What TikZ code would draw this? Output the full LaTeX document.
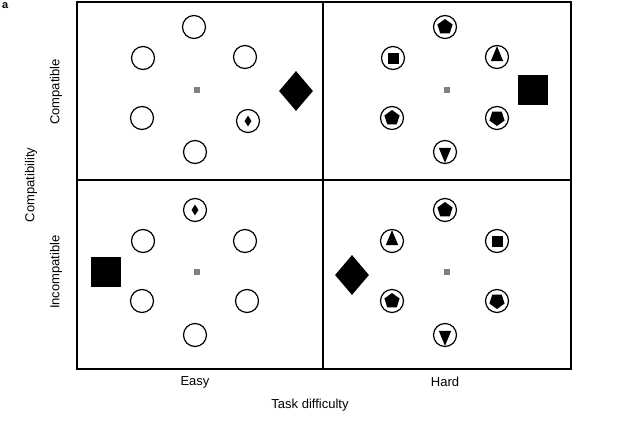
\documentclass[tikz,border=0pt]{standalone}
\usepackage{fontspec}
\setmainfont{Liberation Sans}
\usetikzlibrary{shapes.geometric}
\begin{document}
\begin{tikzpicture}[x=1pt,y=-1pt,
  ring/.style={circle,draw,line width=1.2pt,minimum size=23pt,inner sep=0pt},
  pent/.style={regular polygon,regular polygon sides=5,fill,inner sep=0pt,minimum size=16pt},
  pentd/.style={pent,shape border rotate=180},
  tri/.style={isosceles triangle,isosceles triangle apex angle=45,shape border rotate=90,fill,inner sep=0pt,minimum height=15pt,minimum width=10pt},
  trid/.style={tri,shape border rotate=-90},
  sq/.style={rectangle,fill,inner sep=0pt,minimum size=11pt},
  dia/.style={diamond,fill,inner sep=0pt,minimum width=7pt,minimum height=11pt},
  bigsq/.style={rectangle,fill,inner sep=0pt,minimum size=30pt},
  bigdia/.style={diamond,fill,inner sep=0pt,minimum width=34pt,minimum height=40pt},
  fix/.style={rectangle,fill=gray,inner sep=0pt,minimum size=6pt},
  lab/.style={font=\fontsize{13}{15}\selectfont}]
\useasboundingbox (0,0) rectangle (640,434);
\draw[line width=1.1pt] (77,2) rectangle (571,369);
\draw[line width=1.1pt] (323,2) -- (323,369);
\draw[line width=1.1pt] (77,180) -- (571,180);
\node[font=\bfseries\fontsize{11}{13}\selectfont,anchor=north west,inner sep=0pt] (a) at (2,2) {a};
% top-left
\node[fix] (f1) at (197,90) {};
\node[ring] (c11) at (194,27) {};
\node[ring] (c12) at (143,58) {};
\node[ring] (c13) at (245,57) {};
\node[ring] (c14) at (142,118) {};
\node[ring] (c15) at (248,121) {};
\node[dia] (g15) at (c15) {};
\node[ring] (c16) at (195,152) {};
\node[bigdia] (t1) at (296,91) {};
% top-right
\node[fix] (f2) at (447,90) {};
\node[ring] (c21) at (445,27) {}; \node[pent] at (c21) {};
\node[ring] (c22) at (393,58) {}; \node[sq] at (c22) {};
\node[ring] (c23) at (497,57) {}; \node[tri] at (c23) {};
\node[ring] (c24) at (392,118) {}; \node[pent] at (c24) {};
\node[ring] (c25) at (497,118) {}; \node[pentd] at (c25) {};
\node[ring] (c26) at (445,152) {}; \node[trid] at (c26) {};
\node[bigsq] (t2) at (533,90) {};
% bottom-left
\node[fix] (f3) at (197,272) {};
\node[ring] (c31) at (195,210) {}; \node[dia] at (c31) {};
\node[ring] (c32) at (143,241) {};
\node[ring] (c33) at (245,241) {};
\node[ring] (c34) at (142,301) {};
\node[ring] (c35) at (247,301) {};
\node[ring] (c36) at (195,335) {};
\node[bigsq] (t3) at (106,272) {};
% bottom-right
\node[fix] (f4) at (447,272) {};
\node[ring] (c41) at (445,210) {}; \node[pent] at (c41) {};
\node[ring] (c42) at (392,241) {}; \node[tri] at (c42) {};
\node[ring] (c43) at (497,241) {}; \node[sq] at (c43) {};
\node[ring] (c44) at (392,301) {}; \node[pent] at (c44) {};
\node[ring] (c45) at (497,301) {}; \node[pentd] at (c45) {};
\node[ring] (c46) at (445,335) {}; \node[trid] at (c46) {};
\node[bigdia] (t4) at (352,275) {};
% labels
\node[lab] (easy) at (195,382) {Easy};
\node[lab] (hard) at (445,382) {Hard};
\node[lab] (td) at (310,405) {Task difficulty};
\node[lab,rotate=90] (cy) at (31,185) {Compatibility};
\node[lab,rotate=90] (cp) at (56,92) {Compatible};
\node[lab,rotate=90] (ic) at (56,272) {Incompatible};
\end{tikzpicture}
\end{document}
